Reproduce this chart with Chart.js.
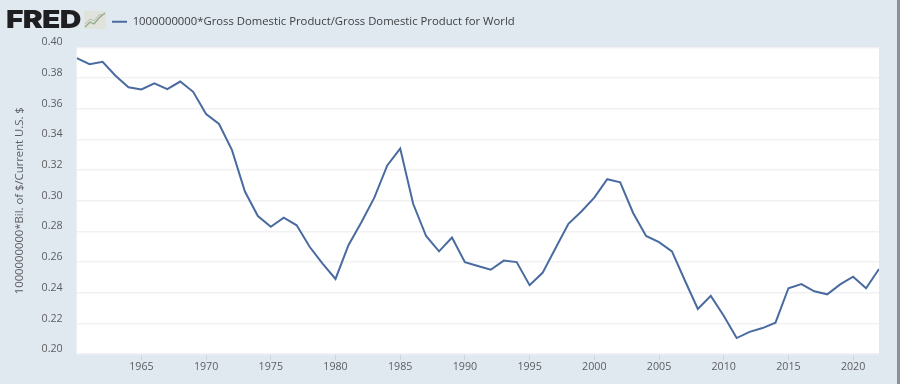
<!DOCTYPE html>
<html>
<head>
<meta charset="utf-8">
<title>FRED</title>
<script src="https://cdn.jsdelivr.net/npm/chart.js@4"></script>
<style>
    html, body { margin: 0; padding: 0; background: #e1e9f0; }
    #wrap { position: relative; width: 900px; height: 384px; overflow: hidden; }
    #chart { position: absolute; left: 0; top: 0; }
    #logo { position: absolute; left: 6px; top: 4px; font: 900 25px/30px Inter, sans-serif; letter-spacing: -0.6px; color: #1f1f21; transform: scaleX(1.2); transform-origin: left top; }
    #icon { position: absolute; left: 84px; top: 11px; }
    #edge { position: absolute; left: 897px; top: 0; width: 3px; height: 384px; background: #8d9196; }
</style>
</head>
<body>
<div id="wrap">
    <canvas id="chart" width="900" height="384"></canvas>
    <div id="logo">FRED</div>
    <svg id="icon" width="22" height="18" viewBox="0 0 22 18">
        <rect width="22" height="18" fill="#dfe3dc"/>
        <polyline points="1,16 6,11 10,13 15,7 21,2" fill="none" stroke="#8fa58a" stroke-width="1.2"/>
        <polyline points="1,13 6,8 10,10 15,4 20,3" fill="none" stroke="#b4bfa6" stroke-width="1"/>
    </svg>
    <div id="edge"></div>
</div>
<script>
    const years = [
        1960, 1961, 1962, 1963, 1964, 1965, 1966, 1967, 1968, 1969,
        1970, 1971, 1972, 1973, 1974, 1975, 1976, 1977, 1978, 1979,
        1980, 1981, 1982, 1983, 1984, 1985, 1986, 1987, 1988, 1989,
        1990, 1991, 1992, 1993, 1994, 1995, 1996, 1997, 1998, 1999,
        2000, 2001, 2002, 2003, 2004, 2005, 2006, 2007, 2008, 2009,
        2010, 2011, 2012, 2013, 2014, 2015, 2016, 2017, 2018, 2019,
        2020, 2021, 2022
    ];
    const gdpShare = [
        0.393, 0.389, 0.3905, 0.3815, 0.374, 0.3725, 0.3765, 0.3727, 0.3777, 0.371,
        0.3565, 0.350, 0.333, 0.306, 0.290, 0.283, 0.289, 0.284, 0.270, 0.259,
        0.249, 0.271, 0.286, 0.302, 0.323, 0.334, 0.298, 0.277, 0.267, 0.276,
        0.260, 0.2575, 0.255, 0.261, 0.260, 0.245, 0.253, 0.269, 0.285, 0.293,
        0.302, 0.314, 0.312, 0.292, 0.277, 0.273, 0.267, 0.248, 0.2295, 0.238,
        0.225, 0.2105, 0.2145, 0.217, 0.2205, 0.243, 0.2457, 0.241, 0.239, 0.2455,
        0.2505, 0.243, 0.2555
    ];
    const yearTicks = [1965, 1970, 1975, 1980, 1985, 1990, 1995, 2000, 2005, 2010, 2015, 2020];
    const seriesName = '1000000000*Gross Domestic Product/Gross Domestic Product for World';
    const yAxisTitle = '1000000000*Bil. of $/Current U.S. $';

    // White plot background and the legend moved right of the logo
    const fredLook = {
        id: 'fredLook',
        afterLayout(chart) {
            chart.legend.left = 88;
            chart.legend.top -= 10;
        },
        beforeDraw(chart) {
            const a = chart.chartArea;
            chart.ctx.fillStyle = '#ffffff';
            chart.ctx.fillRect(a.left, a.top, a.right - a.left, a.bottom - a.top);
        }
    };

    new Chart(document.getElementById('chart'), {
        type: 'line',
        plugins: [fredLook],
        data: {
            datasets: [{
                label: seriesName,
                data: years.map((year, i) => ({ x: year, y: gdpShare[i] })),
                borderColor: '#4a6b9f',
                backgroundColor: '#4a6b9f',
                borderWidth: 2,
                pointRadius: 0,
                tension: 0
            }]
        },
        options: {
            responsive: false,
            animation: false,
            layout: { padding: { left: 13, right: 21, top: 2, bottom: 11 } },
            plugins: {
                tooltip: { enabled: false },
                legend: {
                    position: 'top',
                    align: 'start',
                    labels: {
                        usePointStyle: true,
                        pointStyle: 'line',
                        pointStyleWidth: 15,
                        color: '#3f4144',
                        font: { family: 'Open Sans', size: 11.3 },
                        padding: 24
                    }
                }
            },
            scales: {
                x: {
                    type: 'linear',
                    min: 1960,
                    max: 2022,
                    afterBuildTicks(axis) {
                        axis.ticks = yearTicks.map(value => ({ value }));
                    },
                    border: { display: false },
                    grid: { drawOnChartArea: false, drawTicks: true, tickLength: 6, color: '#ced6de' },
                    ticks: {
                        color: '#5c5e61',
                        font: { family: 'Open Sans', size: 10.7 },
                        maxRotation: 0,
                        autoSkip: false,
                        padding: 0,
                        callback: value => String(value)
                    }
                },
                y: {
                    min: 0.2,
                    max: 0.4,
                    border: { display: false },
                    grid: { color: '#f1f1f3', lineWidth: 1.5, drawTicks: false },
                    ticks: {
                        stepSize: 0.02,
                        color: '#5c5e61',
                        font: { family: 'Open Sans', size: 10.7 },
                        labelOffset: -5,
                        padding: 14,
                        callback: value => value.toFixed(2)
                    },
                    title: {
                        display: true,
                        text: yAxisTitle,
                        color: '#5c5e61',
                        font: { family: 'Open Sans', size: 11.3 },
                        padding: { top: 0, bottom: 1 }
                    }
                }
            }
        }
    });
</script>
</body>
</html>
